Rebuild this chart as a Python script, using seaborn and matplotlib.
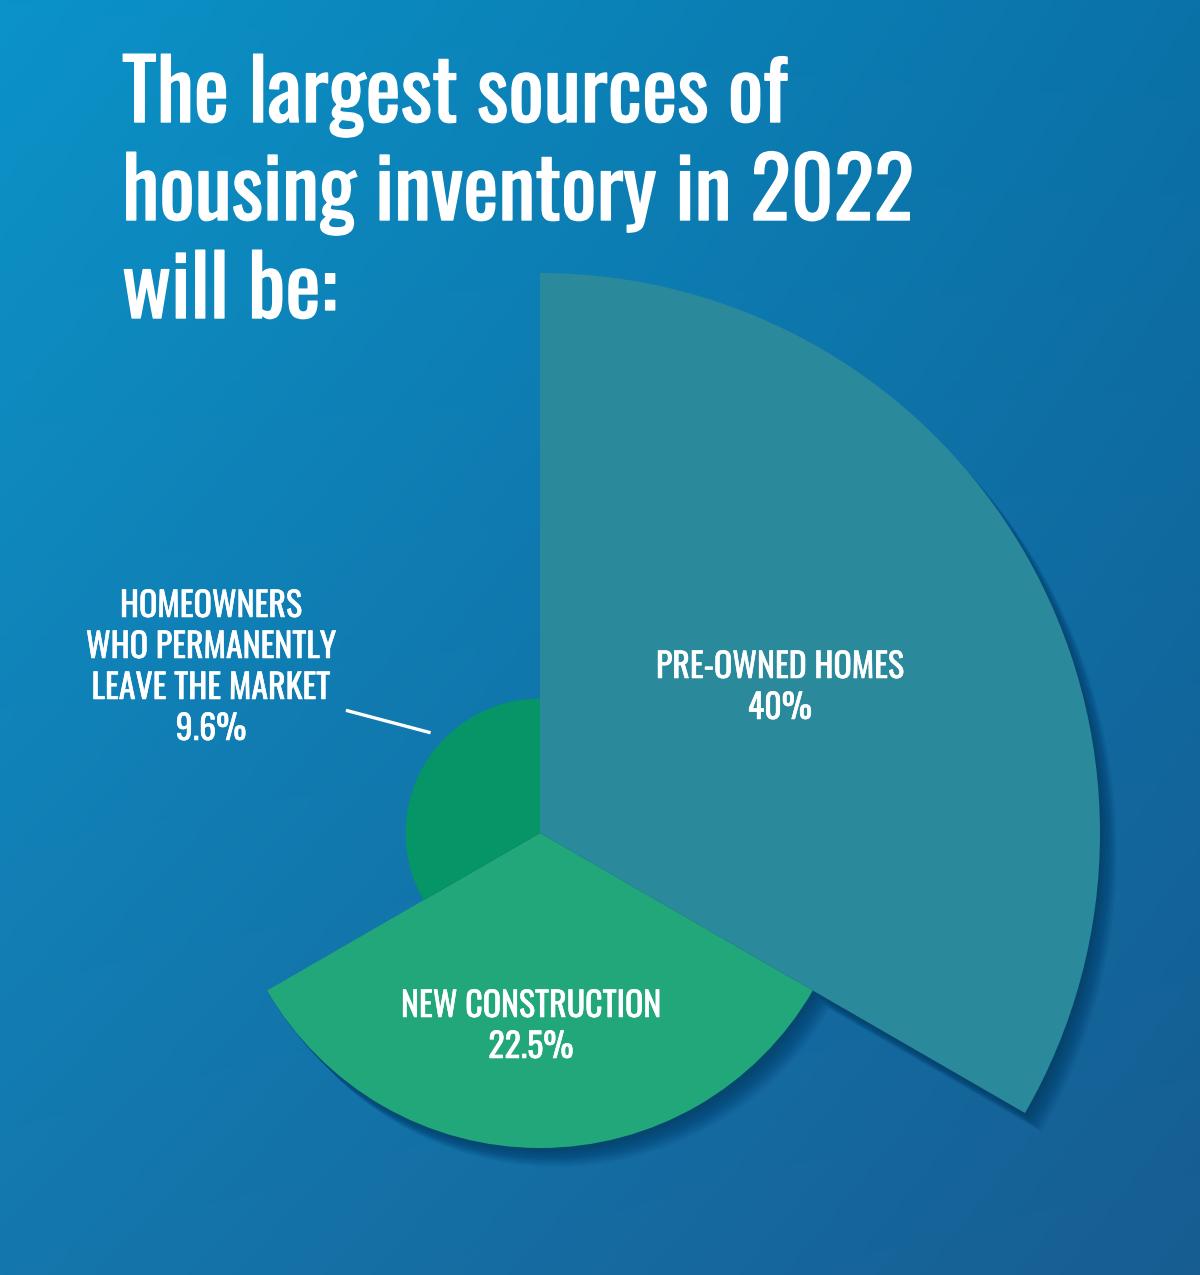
import numpy as np
import matplotlib
matplotlib.use("Agg")
import matplotlib.pyplot as plt
import matplotlib.transforms as mtransforms
import matplotlib.patheffects as pe
from matplotlib import font_manager
from matplotlib.colors import to_rgb
import seaborn as sns

# data
categories = ["PRE-OWNED HOMES", "NEW CONSTRUCTION",
              "HOMEOWNERS\nWHO PERMANENTLY\nLEAVE THE MARKET"]
shares = [40, 22.5, 9.6]
share_labels = ["40%", "22.5%", "9.6%"]
wedge_colors = ["#2a8a9c", "#22a77a", "#069566"]
title_lines = ["The largest sources of", "housing inventory in 2022", "will be:"]

W, H = 1200, 1275
CX, CY = 540, 833          # pie centre in pixels
PX_PER_UNIT = 14.0


def pick_font(names):
    for n in names:
        try:
            font_manager.findfont(font_manager.FontProperties(family=n),
                                  fallback_to_default=False)
            return n
        except ValueError:
            pass
    return "DejaVu Sans"


sns.set_theme(style="white")
FONT = pick_font(["Oswald", "Roboto Condensed", "Liberation Sans Narrow",
                  "Open Sans Condensed", "Roboto", "DejaVu Sans"])
plt.rcParams["font.family"] = [FONT, "DejaVu Sans"]


def fx(x):
    return x / W


def fy(y):
    return 1 - y / H


fig = plt.figure(figsize=(12, 12.75), dpi=100)

# background gradient (bilinear between corner colours)
bg = fig.add_axes([0, 0, 1, 1], zorder=0)
tl, tr = np.array(to_rgb("#0b93c8")), np.array(to_rgb("#0a72a8"))
bl, br = np.array(to_rgb("#1477ad")), np.array(to_rgb("#175d92"))
u = np.linspace(0, 1, 300)[None, :, None]
v = np.linspace(0, 1, 320)[:, None, None]
grad = (1 - v) * ((1 - u) * tl + u * tr) + v * ((1 - u) * bl + u * br)
bg.imshow(grad, aspect="auto", extent=[0, 1, 0, 1], origin="upper")
bg.set_axis_off()

# polar axes centred on the pie centre, 600 px radius
R = 600
ax = fig.add_axes([fx(CX - R), fy(CY + R), 2 * R / W, 2 * R / H],
                  projection="polar", zorder=2)
ax.set_ylim(0, R / PX_PER_UNIT)
ax.set_axis_off()
ax.patch.set_alpha(0)

centres = np.deg2rad([30, -90, 150])
width = np.deg2rad(120)

# soft drop shadow
for i in range(24):
    d = i * 0.7
    off = mtransforms.ScaledTranslation((1 + d) / 100, -(3 + d) / 100,
                                        fig.dpi_scale_trans)
    bars = ax.bar(centres, shares, width=width, bottom=0, color="#06284a",
                  alpha=0.022, linewidth=0, zorder=1)
    for b in bars:
        b.set_transform(ax.transData + off)

ax.bar(centres, shares, width=width, bottom=0, color=wedge_colors,
       linewidth=0, zorder=3)

# leader line for the small wedge
ax.plot(np.deg2rad([137.5, 147.7]), [10.6, 16.4], color="white", lw=2.4,
        solid_capstyle="butt", zorder=4)

# title
title_texts = []
for line, base in zip(title_lines, [122, 220, 318]):
    t = fig.text(fx(122), fy(base), line, color="white", ha="left",
                 va="baseline", fontsize=60, fontweight="bold", zorder=5)
    title_texts.append(t)

# wedge labels, line by line
label_specs = [
    (780, [678, 719], ["PRE-OWNED HOMES", "40%"]),
    (531, [1017, 1058], ["NEW CONSTRUCTION", "22.5%"]),
    (211, [617, 658, 699, 740], ["HOMEOWNERS", "WHO PERMANENTLY",
                                 "LEAVE THE MARKET", "9.6%"]),
]
label_texts = []
for (x, bases, lines), name, pct in zip(label_specs, categories, share_labels):
    for line, base in zip(lines, bases):
        t = fig.text(fx(x), fy(base), line, color="white", ha="center",
                     va="baseline", fontsize=22, zorder=5)
        label_texts.append(t)

# scale font sizes so the widths match the artwork
fig.canvas.draw()
r = fig.canvas.get_renderer()
w = title_texts[1].get_window_extent(r).width
ts = 60 * 792 / w
for t in title_texts:
    t.set_fontsize(ts)
    t.set_path_effects([pe.withStroke(linewidth=1.0, foreground="white")])
ref = [t for t in label_texts if t.get_text() == "WHO PERMANENTLY"][0]
w = ref.get_window_extent(r).width
ls = 22 * 250 / w
for t in label_texts:
    t.set_fontsize(ls)
    t.set_path_effects([pe.withStroke(linewidth=0.4, foreground="white")])

fig.savefig("out.png", dpi=100)
